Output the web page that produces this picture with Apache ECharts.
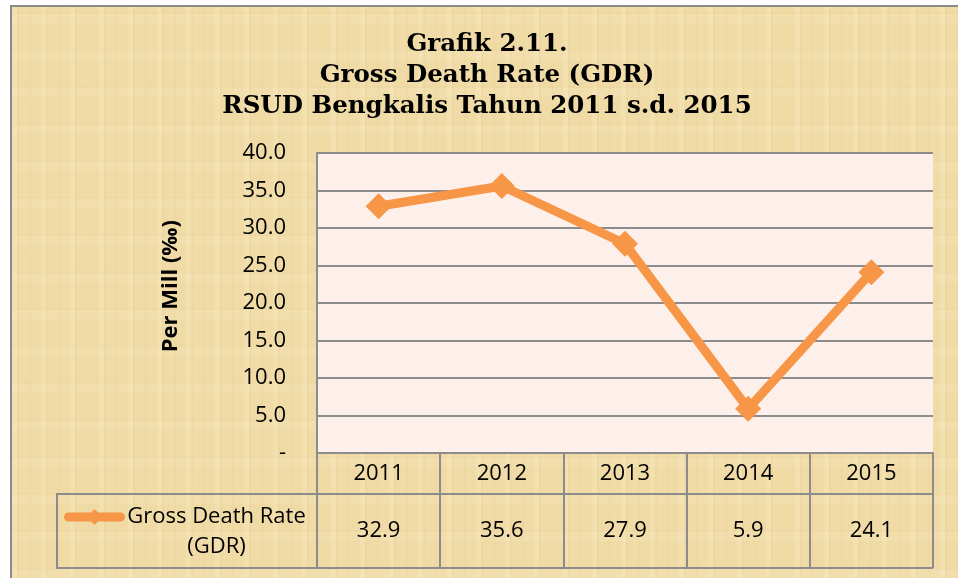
<!DOCTYPE html>
<html>
<head>
<meta charset="utf-8">
<script src="https://cdn.jsdelivr.net/npm/echarts@6/dist/echarts.min.js"></script>
<style>
  html, body { margin: 0; padding: 0; background: #fff; }
  #wrap { position: relative; width: 958px; height: 578px; overflow: hidden; }
  #paper {
    position: absolute; left: 10px; top: 5px; right: 0; bottom: 0;
    border-top: 2px solid #8a8a8a; border-left: 2px solid #8a8a8a;
    background-color: #f0dba6;
    background-image:
      repeating-linear-gradient(90deg, rgba(255,245,215,0.18) 0 5px, rgba(205,175,105,0.08) 5px 7px, rgba(255,245,215,0) 7px 17px, rgba(205,175,105,0.06) 17px 19px, rgba(255,245,215,0) 19px 29px),
      repeating-linear-gradient(0deg, rgba(255,245,215,0.12) 0 9px, rgba(205,175,105,0.05) 9px 11px, rgba(255,245,215,0) 11px 37px);
  }
  #chart { position: absolute; left: 0; top: 0; width: 958px; height: 578px; }
</style>
</head>
<body>
<div id="wrap">
  <div id="paper"></div>
  <div id="chart"></div>
</div>
<script>
const years = ["2011", "2012", "2013", "2014", "2015"];
const gdr = [32.9, 35.6, 27.9, 5.9, 24.1];
const seriesName = "Gross Death Rate (GDR)";

const labelFont = "Open Sans, sans-serif";
const gray = "#8c8c8c";

const chart = echarts.init(document.getElementById("chart"));

const option = {
  backgroundColor: "transparent",
  title: {
    text: "Grafik 2.11.\nGross Death Rate (GDR)\nRSUD Bengkalis Tahun 2011 s.d. 2015",
    left: 487,
    textAlign: "center",
    top: 29,
    padding: 0,
    textStyle: {
      fontFamily: "DejaVu Serif",
      fontWeight: "bold",
      fontSize: 24.5,
      lineHeight: 31,
      color: "#000",
      align: "center",
    },
  },
  grid: {
    left: 317,
    top: 153,
    width: 616,
    height: 300,
    show: true,
    backgroundColor: "#fdefea",
    borderWidth: 0,
  },
  legend: {
    data: [seriesName],
    left: 59,
    top: 501,
    itemWidth: 52,
    itemHeight: 20,
    itemGap: 0,
    lineStyle: { width: 9, cap: "round" },
    textStyle: {
      fontFamily: labelFont,
      fontSize: 22,
      color: "#000",
      padding: [30, 0, 0, 0],
      rich: {
        a: { width: 182, align: "center", fontFamily: labelFont, fontSize: 22, lineHeight: 30, color: "#000" },
      },
    },
    formatter: () => "{a|Gross Death Rate}\n{a|(GDR)}",
  },
  xAxis: [
    {
      type: "category",
      data: years,
      position: "bottom",
      axisLine: { show: true, lineStyle: { color: gray, width: 2 } },
      axisTick: { show: true, length: 41, lineStyle: { color: gray, width: 2 } },
      axisLabel: {
        margin: 21,
        verticalAlign: "middle",
        fontFamily: labelFont,
        fontSize: 22,
        color: "#000",
      },
    },
    {
      type: "category",
      data: gdr.map((v) => v.toFixed(1)),
      position: "bottom",
      offset: 41,
      axisLine: { show: true, lineStyle: { color: gray, width: 2 } },
      axisTick: { show: true, length: 74, lineStyle: { color: gray, width: 2 } },
      axisLabel: {
        margin: 37,
        verticalAlign: "middle",
        fontFamily: labelFont,
        fontSize: 22,
        color: "#000",
      },
    },
  ],
  yAxis: {
    type: "value",
    min: 0,
    max: 40,
    interval: 5,
    axisLine: { show: true, lineStyle: { color: gray, width: 2 } },
    axisTick: { show: false },
    splitLine: { show: true, lineStyle: { color: gray, width: 2 } },
    axisLabel: {
      margin: 31,
      fontFamily: labelFont,
      fontSize: 22,
      color: "#000",
      formatter: (v) => (v === 0 ? "-" : v.toFixed(1)),
    },
  },
  graphic: [
    {
      type: "text",
      left: 160,
      top: 220,
      rotation: Math.PI / 2,
      style: {
        text: "Per Mill (‰)",
        fontFamily: labelFont,
        fontWeight: "bold",
        fontSize: 22,
        fill: "#000",
      },
    },
    { type: "line", shape: { x1: 57, y1: 494, x2: 317, y2: 494 }, style: { stroke: gray, lineWidth: 2 } },
    { type: "line", shape: { x1: 57, y1: 568, x2: 933, y2: 568 }, style: { stroke: gray, lineWidth: 2 } },
    { type: "line", shape: { x1: 57, y1: 493, x2: 57, y2: 569 }, style: { stroke: gray, lineWidth: 2 } },
  ],
  series: [
    {
      name: seriesName,
      type: "line",
      data: gdr,
      symbol: "diamond",
      symbolSize: 26,
      lineStyle: { color: "#f79646", width: 9 },
      itemStyle: { color: "#f79646" },
      z: 5,
    },
  ],
};

chart.setOption(option);
</script>
</body>
</html>
